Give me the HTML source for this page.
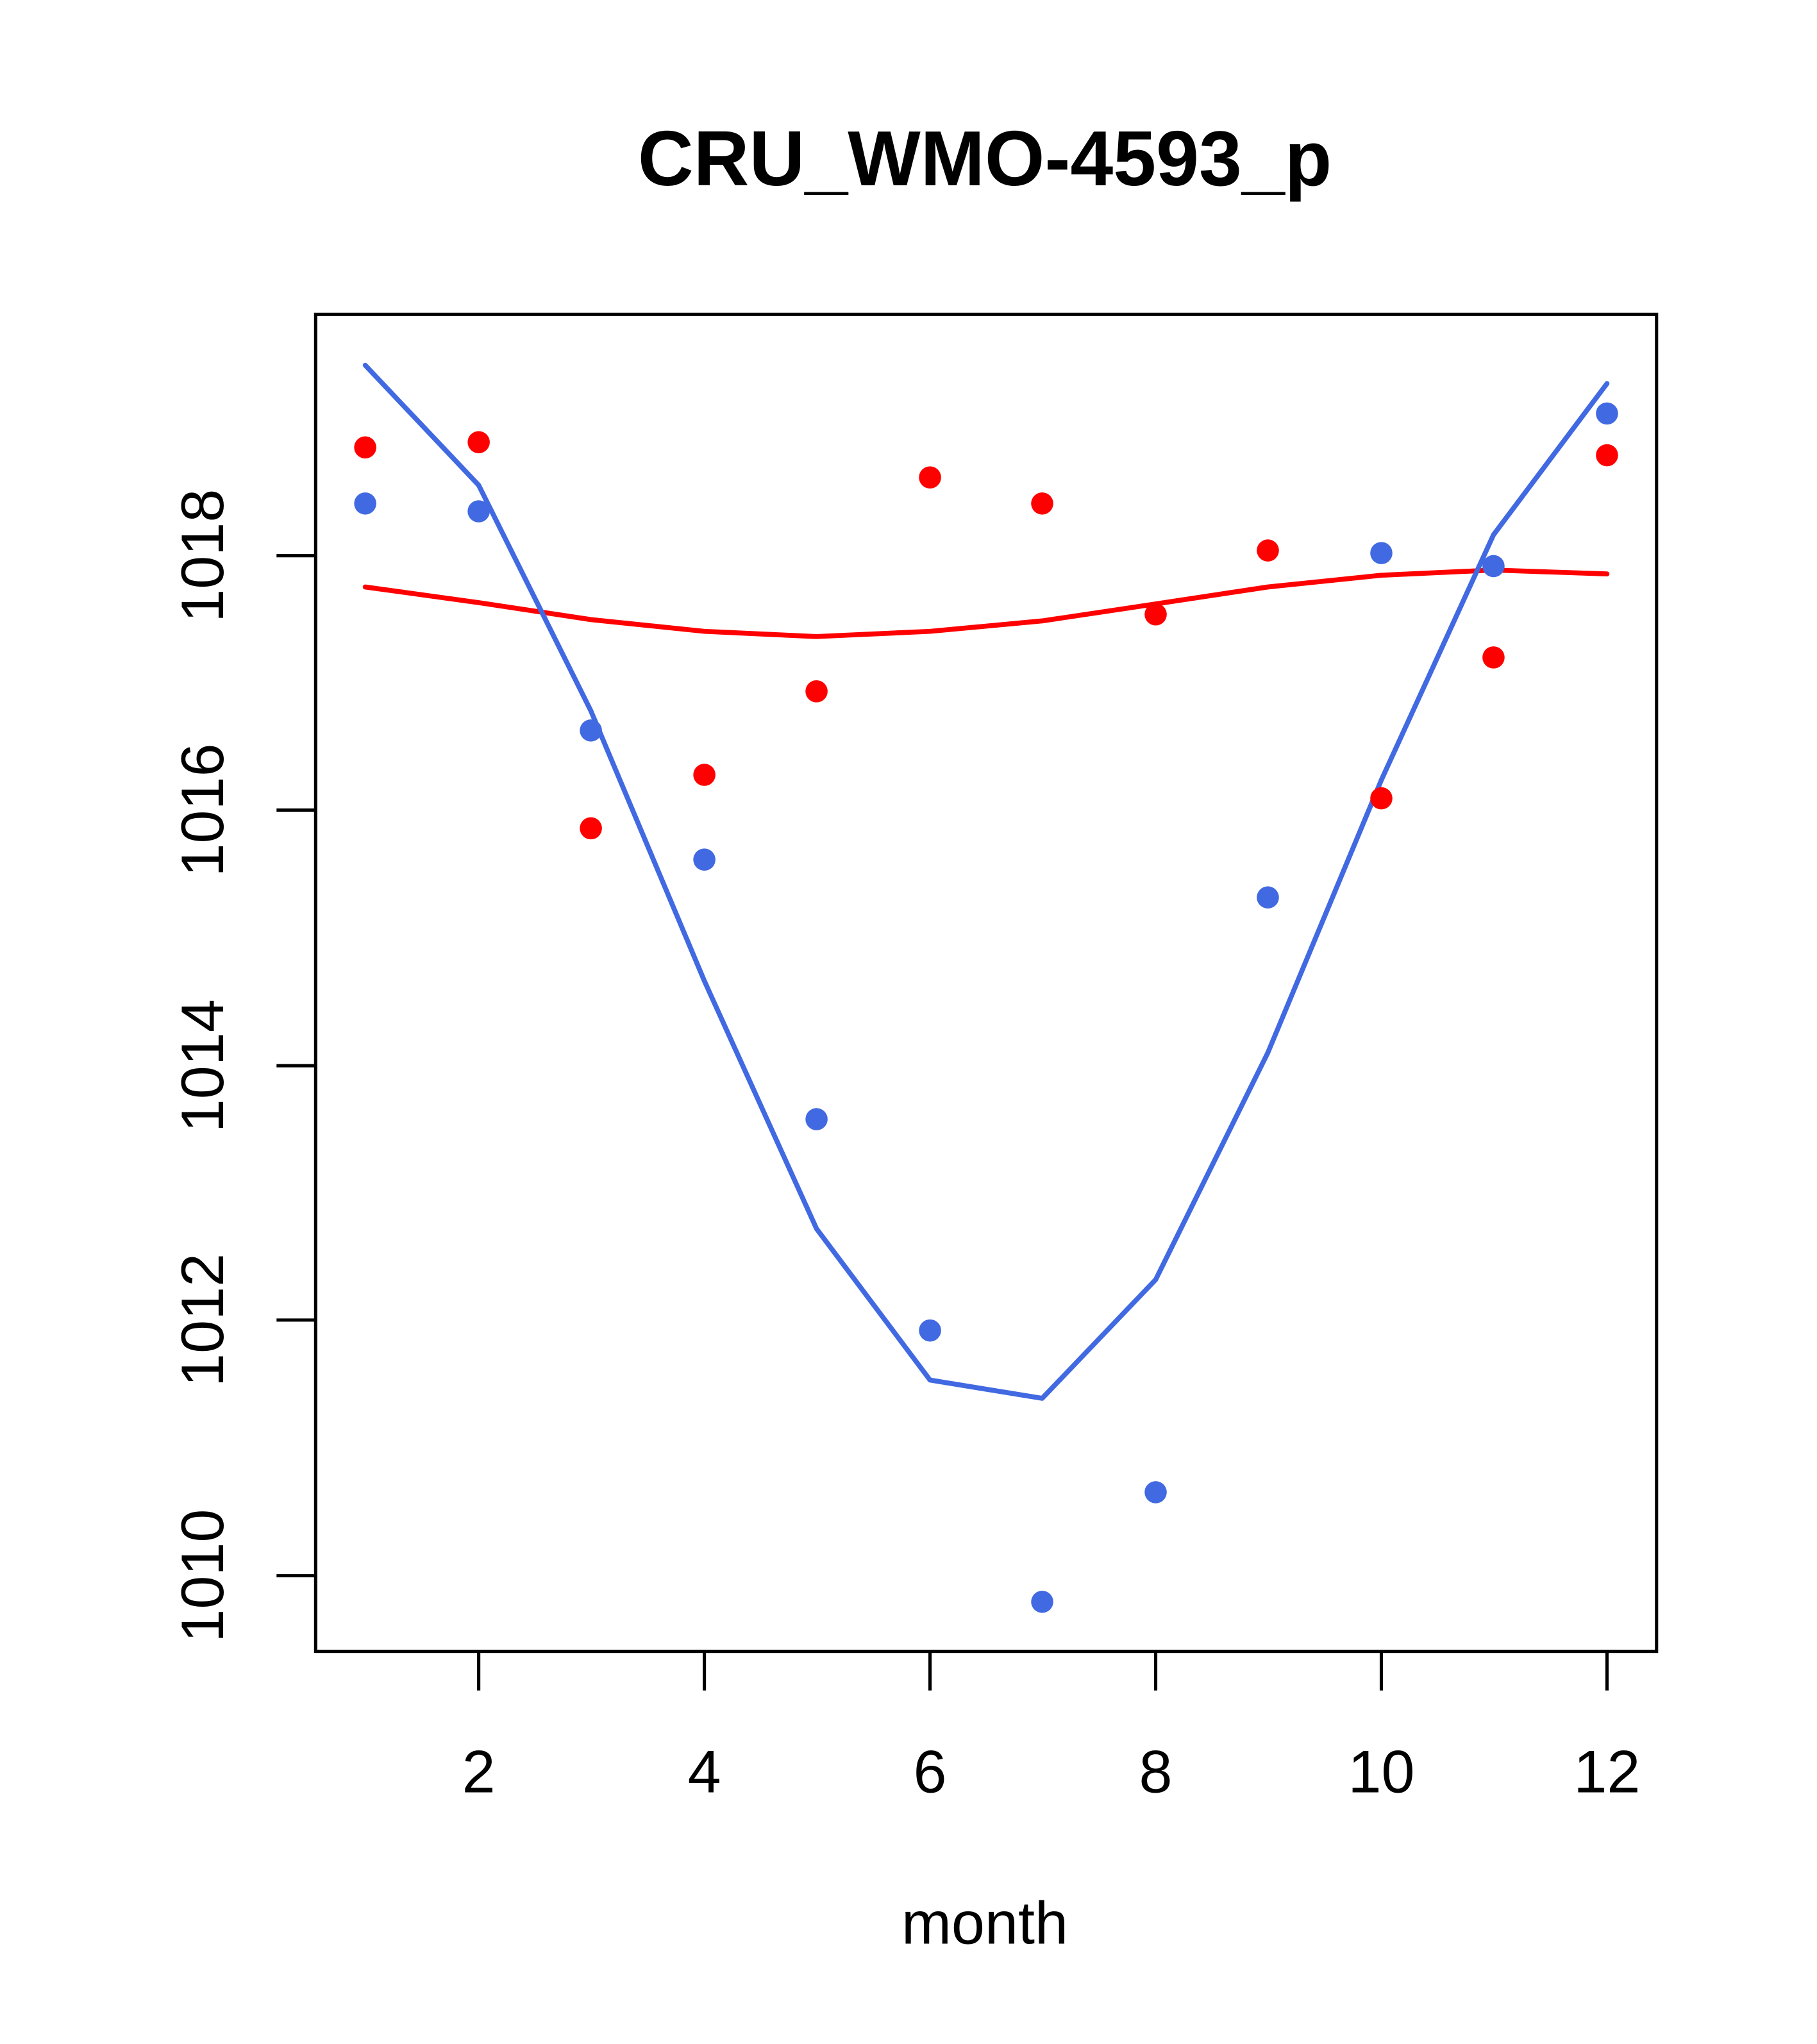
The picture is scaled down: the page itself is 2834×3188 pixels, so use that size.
<!DOCTYPE html>
<html><head><meta charset="utf-8"><style>html,body{margin:0;padding:0;background:#fff}svg{display:block}</style></head>
<body>
<svg width="2834" height="3188" viewBox="0 0 1393 1567" xmlns="http://www.w3.org/2000/svg" font-family="Liberation Sans, sans-serif">
<rect width="1393" height="1567" fill="#fff"/>
<text x="755" y="142" font-size="60" font-weight="bold" text-anchor="middle" textLength="532" lengthAdjust="spacingAndGlyphs">CRU_WMO-4593_p</text>
<rect x="242" y="241" width="1028" height="1025" fill="none" stroke="#000" stroke-width="2.5"/>
<g stroke="#000" stroke-width="2.5" fill="none">
<path d="M367 1266v30M540 1266v30M713 1266v30M886 1266v30M1059 1266v30M1232 1266v30"/>
<path d="M242 426h-30M242 621h-30M242 817h-30M242 1012h-30M242 1208h-30"/>
</g>
<g font-size="46" text-anchor="middle">
<text x="367" y="1374">2</text><text x="540" y="1374">4</text><text x="713" y="1374">6</text><text x="886" y="1374">8</text><text x="1059" y="1374">10</text><text x="1232" y="1374">12</text>
<text x="755" y="1490">month</text>
<text transform="translate(171,426) rotate(-90)">1018</text>
<text transform="translate(171,621) rotate(-90)">1016</text>
<text transform="translate(171,817) rotate(-90)">1014</text>
<text transform="translate(171,1012) rotate(-90)">1012</text>
<text transform="translate(171,1208) rotate(-90)">1010</text>
</g>
<polyline fill="none" stroke="#FF0000" stroke-width="3.8" stroke-linecap="round" stroke-linejoin="round" points="280,450 367,462 453,475 540,484 626,488 713,484 799,476 886,463 972,450 1059,441 1145,437 1232,440"/>
<polyline fill="none" stroke="#4169E1" stroke-width="3.8" stroke-linecap="round" stroke-linejoin="round" points="280,280 367,372 453,545 540,752 626,942 713,1058 799,1072 886,981 972,807 1059,598 1145,410 1232,294"/>
<g fill="#FF0000">
<circle cx="280" cy="343" r="8.5"/><circle cx="367" cy="339" r="8.5"/><circle cx="453" cy="635" r="8.5"/><circle cx="540" cy="594" r="8.5"/><circle cx="626" cy="530" r="8.5"/><circle cx="713" cy="366" r="8.5"/><circle cx="799" cy="386" r="8.5"/><circle cx="886" cy="471" r="8.5"/><circle cx="972" cy="422" r="8.5"/><circle cx="1059" cy="612" r="8.5"/><circle cx="1145" cy="504" r="8.5"/><circle cx="1232" cy="349" r="8.5"/>
</g>
<g fill="#4169E1">
<circle cx="280" cy="386" r="8.5"/><circle cx="367" cy="392" r="8.5"/><circle cx="453" cy="560" r="8.5"/><circle cx="540" cy="659" r="8.5"/><circle cx="626" cy="858" r="8.5"/><circle cx="713" cy="1020" r="8.5"/><circle cx="799" cy="1228" r="8.5"/><circle cx="886" cy="1144" r="8.5"/><circle cx="972" cy="688" r="8.5"/><circle cx="1059" cy="424" r="8.5"/><circle cx="1145" cy="434" r="8.5"/><circle cx="1232" cy="317" r="8.5"/>
</g>
</svg>
</body></html>
